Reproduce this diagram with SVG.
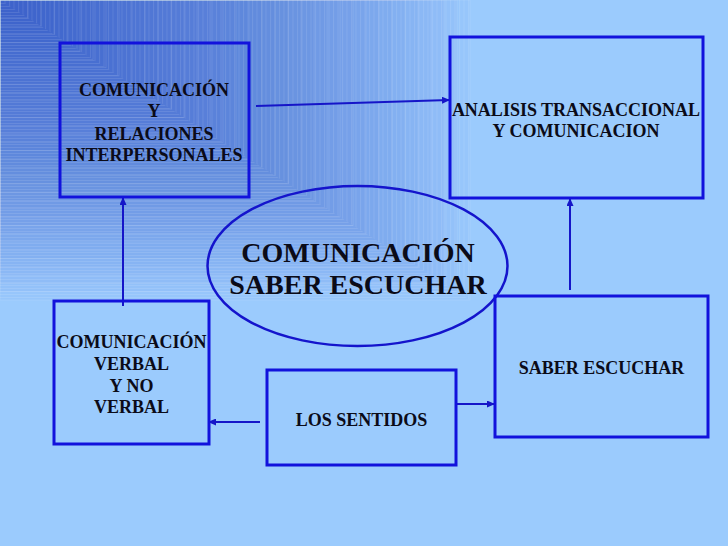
<svg xmlns="http://www.w3.org/2000/svg" width="728" height="546" viewBox="0 0 728 546">
  <defs>
    <style>
      .st{fill:#1a45b8;fill-opacity:0.03;stroke:#ffffff;stroke-opacity:0.14;stroke-width:0.8}
      .box{fill:none;stroke:#1212dc;stroke-width:3}
      .ell{fill:none;stroke:#1414cc;stroke-width:2.5}
      .t{font-family:"Liberation Serif","Times New Roman",serif;font-weight:bold;font-size:18px;fill:#0b0b18;text-anchor:middle}
      .tb{font-size:28px}
      .c{fill:none;stroke:#1515c8;stroke-width:2;marker-end:url(#ah)}
    </style>
    <marker id="ah" markerUnits="userSpaceOnUse" markerWidth="8" markerHeight="7" refX="7" refY="3.5" orient="auto">
      <path d="M0,0 L8,3.5 L0,7 z" fill="#1515c8"/>
    </marker>
    <pattern id="hz" width="8" height="3" patternUnits="userSpaceOnUse">
      <rect x="0" y="0" width="8" height="1" fill="#ffffff" fill-opacity="0.1"/>
    </pattern>
    <pattern id="vt" width="4.5" height="8" patternUnits="userSpaceOnUse">
      <rect x="0" y="0" width="1" height="8" fill="#ffffff" fill-opacity="0.1"/>
    </pattern>
  </defs>

  <g id="background">
    <rect x="0" y="0" width="728" height="546" fill="#9bcbfd"/>
    <rect class="st" x="0" y="0" width="470" height="300"/>
    <rect class="st" x="0" y="0" width="457" height="291.7"/>
    <rect class="st" x="0" y="0" width="444" height="283.4"/>
    <rect class="st" x="0" y="0" width="431" height="275.1"/>
    <rect class="st" x="0" y="0" width="418" height="266.8"/>
    <rect class="st" x="0" y="0" width="405" height="258.5"/>
    <rect class="st" x="0" y="0" width="392" height="250.2"/>
    <rect class="st" x="0" y="0" width="379" height="241.9"/>
    <rect class="st" x="0" y="0" width="366" height="233.6"/>
    <rect class="st" x="0" y="0" width="353" height="225.3"/>
    <rect class="st" x="0" y="0" width="340" height="217"/>
    <rect class="st" x="0" y="0" width="327" height="208.7"/>
    <rect class="st" x="0" y="0" width="314" height="200.4"/>
    <rect class="st" x="0" y="0" width="301" height="192.1"/>
    <rect class="st" x="0" y="0" width="288" height="183.8"/>
    <rect class="st" x="0" y="0" width="275" height="175.5"/>
    <rect class="st" x="0" y="0" width="262" height="167.2"/>
    <rect class="st" x="0" y="0" width="249" height="158.9"/>
    <rect class="st" x="0" y="0" width="236" height="150.6"/>
    <rect class="st" x="0" y="0" width="223" height="142.3"/>
    <rect class="st" x="0" y="0" width="210" height="134"/>
    <rect class="st" x="0" y="0" width="197" height="125.7"/>
    <rect class="st" x="0" y="0" width="184" height="117.4"/>
    <rect class="st" x="0" y="0" width="171" height="109.1"/>
    <rect class="st" x="0" y="0" width="158" height="100.8"/>
    <rect class="st" x="0" y="0" width="145" height="92.5"/>
    <rect class="st" x="0" y="0" width="132" height="84.2"/>
    <rect class="st" x="0" y="0" width="119" height="75.9"/>
    <rect class="st" x="0" y="0" width="106" height="67.6"/>
    <rect class="st" x="0" y="0" width="93" height="59.3"/>
    <rect class="st" x="0" y="0" width="80" height="51"/>
    <rect class="st" x="0" y="0" width="67" height="42.7"/>
    <rect class="st" x="0" y="0" width="54" height="34.4"/>
    <rect class="st" x="0" y="0" width="41" height="26.1"/>
    <rect class="st" x="0" y="0" width="28" height="17.8"/>
    <polygon points="0,0 470,300 0,300" fill="url(#hz)"/>
    <polygon points="0,0 470,0 470,300" fill="url(#vt)"/>
  </g>

  <g id="connectors">
    <path class="c" d="M256,106 L449,100"/>
    <path class="c" d="M123,306 L123,198"/>
    <path class="c" d="M570,290 L570,199"/>
    <path class="c" d="M260,422 L209,422"/>
    <path class="c" d="M456,404 L494,404"/>
  </g>

  <g id="node-relaciones">
    <rect class="box" x="60" y="43" width="189" height="154"/>
    <text class="t" x="154" y="96">COMUNICACIÓN</text>
    <text class="t" x="154" y="117">Y</text>
    <text class="t" x="154" y="140">RELACIONES</text>
    <text class="t" x="154" y="161">INTERPERSONALES</text>
  </g>

  <g id="node-analisis">
    <rect class="box" x="450" y="37" width="253" height="161"/>
    <text class="t" x="576" y="116">ANALISIS TRANSACCIONAL</text>
    <text class="t" x="576" y="137">Y COMUNICACION</text>
  </g>

  <g id="node-central">
    <ellipse class="ell" cx="357.5" cy="266" rx="150" ry="80"/>
    <text class="t tb" x="358" y="262">COMUNICACIÓN</text>
    <text class="t tb" x="358" y="294">SABER ESCUCHAR</text>
  </g>

  <g id="node-verbal">
    <rect class="box" x="54" y="301" width="155" height="143"/>
    <text class="t" x="131.5" y="348">COMUNICACIÓN</text>
    <text class="t" x="131.5" y="370">VERBAL</text>
    <text class="t" x="131.5" y="392">Y NO</text>
    <text class="t" x="131.5" y="413">VERBAL</text>
  </g>

  <g id="node-sentidos">
    <rect class="box" x="267" y="370" width="189" height="95"/>
    <text class="t" x="361.5" y="426">LOS SENTIDOS</text>
  </g>

  <g id="node-escuchar">
    <rect class="box" x="495" y="296" width="213" height="141"/>
    <text class="t" x="601.5" y="374">SABER ESCUCHAR</text>
  </g>
</svg>
